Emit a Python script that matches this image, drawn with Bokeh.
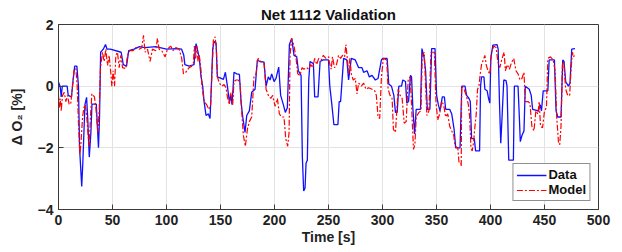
from bokeh.plotting import figure
from bokeh.models import Range1d, FixedTicker, Legend, LegendItem
from bokeh.embed import file_html
from bokeh.resources import INLINE

title_text = "Net 1112 Validation"
x_label = "Time [s]"
y_label = "\u0394 O\u2082 [%]"
x_ticks = [0, 50, 100, 150, 200, 250, 300, 350, 400, 450, 500]
y_ticks = [-4, -2, 0, 2]

# Measured data (blue)
time_data = [0, 1.5, 2.5, 3.5, 8, 9, 12, 13.5, 15, 17, 18.5, 19.5, 21.5, 22.5, 24.5, 26, 27, 28.5, 30, 31,
             35, 36, 37, 38, 39, 41.5, 43.5, 45, 48, 58, 60, 63, 65, 70, 75, 80, 90, 100, 110, 114,
             116, 117, 121, 125.5, 126.7, 127.4, 128.6, 130.4, 132, 133.5, 134.8, 136.6, 138.8, 140.3, 141.2, 142.8, 144, 145.9, 147.1, 149.6,
             152.7, 154.5, 156.4, 158.2, 159.4, 160.7, 162.5, 165, 167.5, 169, 170.6, 172.7, 174.3, 176.7, 178.9, 182, 184.1, 186.6, 190.3, 192.2,
             194.3, 195.9, 197.4, 199.6, 201.4, 203.9, 205.7, 208.2, 210, 211.9, 213.8, 215.9, 218.1, 220.6, 222.1, 224.6, 225.8, 227, 228.3, 229.2,
             230.4, 231.7, 232.9, 236, 237.2, 240.3, 242.2, 245.2, 250, 251.2, 253.1, 255, 258.7, 259.9, 261.2, 264, 267, 268.6, 271.1, 274.8,
             277.9, 281, 282.5, 285.7, 287.8, 290.3, 293.4, 295.9, 299, 300.2, 304.3, 305.8, 308.3, 310.5, 312, 313.6, 315.1, 317.6, 318.8, 321.3,
             322.5, 324.1, 325.9, 326.9, 328.1, 329.7, 331.2, 335.2, 336.5, 338.4, 339.9, 341.5, 343.9, 345.5, 348.6, 350.1, 351.7, 353.2, 355.4, 357.3,
             358.5, 362.2, 364.1, 366.3, 367.8, 371.8, 373.4, 376.4, 377.9, 380.1, 381.3, 382.5, 385, 386.2, 389.9, 390.8, 391.7, 393.9, 394.8, 396.9,
             398.2, 399.4, 400.3, 402.2, 406.1, 407.1, 408.3, 409.5, 410.7, 412.3, 414.4, 415.3, 416.9, 421.2, 422.1, 425.5, 426.7, 427.6, 429.1, 431,
             432.2, 435.9, 437.7, 439, 444.5, 446, 447.2, 448.8, 453.1, 454.3, 459.2, 460.7, 462.3, 465.3, 466.9, 468.1, 469.6, 472.1, 473.6, 475.2,
             478.2]
o2_data = [0.13, 0.0, -0.35, 0.0, 0.0, -0.3, -0.35, 0.2, 0.65, 0.65, 0.0, -2.0, -3.25, -2.5, -0.6, -0.36, -1.0, -2.3, -1.5, -0.58,
           -0.58, -1.3, -2.0, -1.0, 1.1, 1.2, 1.35, 1.2, 1.2, 1.1, 0.7, 0.65, 1.15, 1.2, 1.28, 1.25, 1.28, 1.2, 1.22, 1.2,
           1.0, 0.7, 0.65, 0.7, 1.2, 1.38, 1.2, 0.9, 0.3, 0.0, -0.5, -0.95, -0.9, -1.05, -0.3, 1.2, 1.45, 1.4, 0.3, 0.27,
           0.22, 0.45, 0.0, -0.5, -0.3, -0.6, 0.45, 0.4, 0.38, -0.5, -1.0, -1.5, -0.95, -0.8, -0.2, -0.1, 0.85, 0.8, 0.78, 0.0,
           0.3, 0.2, 0.4, 0.15, 0.25, 0.62, -0.3, -0.6, -0.85, -0.7, 1.35, 1.55, 1.0, 0.95, 0.5, 0.35, -2.3, -3.4, -3.3, -2.5,
           -2.4, 0.2, 0.8, 0.73, -0.35, -0.35, 0.8, 0.85, 0.85, 0.0, -0.6, -1.25, -1.25, -0.5, -0.5, 0.9, 0.85, 0.2, 0.9, 0.85,
           0.6, 0.6, 0.45, 0.5, 0.3, 0.35, 0.2, 0.25, 0.85, 0.9, 0.9, 0.07, 0.0, -0.3, -0.85, -0.85, 0.0, 0.0, 0.2, 0.15,
           -0.55, -0.5, 0.35, 0.3, -0.7, -1.55, -0.75, -0.75, 1.22, 0.95, 0.5, -0.75, -0.75, 1.22, 1.22, -0.3, -0.6, -0.8, -0.35, -0.35,
           -0.75, -0.75, -0.9, -1.4, -2.0, -2.0, 0.0, 0.0, -0.3, -0.4, -0.5, -1.7, -1.7, -2.1, -2.1, 0.0, 0.3, 0.3, -0.1, -0.15,
           -0.4, -0.55, 0.9, 1.33, 1.35, 1.2, -0.5, -1.85, -1.0, 0.2, 0.18, 0.0, -2.4, -2.4, 0.0, 0.0, -1.0, -1.8, -1.6, -1.45,
           0.0, -0.1, -0.3, -0.75, -0.8, -0.6, -0.8, -0.15, -0.15, 0.85, 0.85, -0.8, -1.0, -1.0, 0.85, 0.8, 0.15, 0.0, 0.1, 1.2,
           1.22]

# Model output (red)
time_model = [0, 0.6, 1.6, 2.5, 3.7, 5.3, 6.8, 8.4, 9.9, 11.4, 13, 14.5, 16.1, 17.3, 18.5, 19.8, 20.7, 22.3, 23.5, 24.7,
              25.9, 27.5, 28.4, 29.6, 30.9, 33.3, 34.6, 36.4, 37.7, 38.9, 40.7, 42.3, 43.8, 45.4, 46.9, 48.5, 49.4, 50.6, 51.9, 53.1,
              54.6, 56.2, 57.7, 59.3, 62.3, 63.9, 66, 69.1, 71.6, 74.7, 77.1, 78.7, 80.2, 82.4, 84.8, 87, 90.1, 91.6, 93.2, 95.6,
              98.7, 100.9, 103.9, 106.1, 108.6, 111.7, 114.1, 115.7, 117.8, 120.9, 123.3, 124.9, 125.8, 127, 128, 129.2, 130.4, 131.7, 132.9, 134.8,
              137.2, 139.1, 140.9, 142.2, 143.4, 145, 146.2, 147.1, 149, 151.1, 153.3, 155.1, 156.4, 158.2, 159.4, 161.3, 162.5, 164.4, 166.5, 168.1,
              169.6, 171.2, 173, 174.9, 176.7, 178.9, 181, 182.9, 184.8, 187.2, 190.3, 192.2, 194.3, 196.5, 198.3, 200.5, 202.7, 204.5, 206.7, 208.8,
              210.4, 212.2, 213.5, 214.4, 215.9, 218.1, 220, 221.5, 223.6, 225.5, 227.3, 229.8, 231.7, 233.5, 235.4, 237.2, 239.1, 240.9, 243.4, 245.2,
              247.7, 250.2, 250.6, 252.5, 253.7, 255.6, 257.4, 259.3, 261.2, 263, 264.9, 266.1, 267.4, 268.6, 269.8, 271.1, 272.9, 274.8, 276.4, 277.9,
              280.4, 282.5, 284.7, 287.2, 290.3, 292.8, 294.3, 295.9, 297.4, 299, 300.8, 303.9, 305.2, 307, 308.9, 310.1, 312, 313.2, 314.5, 316.3,
              318.2, 320.1, 321.9, 323.8, 325.6, 326.9, 328.7, 330, 331.2, 333.7, 335.6, 336.8, 338.7, 339.9, 341.1, 343, 344.9, 348, 349.5, 351.1,
              352.9, 354.8, 356.6, 358.5, 360.4, 362.2, 364.1, 366, 367.2, 369.7, 370.9, 372.5, 372.9, 373.3, 375.5, 377.6, 379.5, 380.7, 381.9, 383.1,
              384.4, 385.6, 386.8, 388, 389.3, 390.5, 391.7, 393.3, 394.8, 396, 397.6, 399.4, 400.9, 403.1, 405.2, 406.8, 408.6, 410.7, 412.6, 413.8,
              415.6, 417.5, 419.3, 421.5, 423.6, 425.5, 427.3, 429.1, 431, 432.2, 434.7, 436.5, 438.3, 440.2, 442, 443.9, 445.1, 446.3, 448.2, 450,
              451.8, 453.1, 455.5, 458, 459.8, 461.3, 462.9, 464.1, 465.3, 466.6, 467.8, 469.6, 471.5, 473.3, 474.5, 475.8, 477, 478.2]
o2_model = [-0.3, -0.7, -0.4, -0.8, -0.3, -0.2, -0.5, -0.3, -0.6, -0.55, 0.0, 0.55, 0.57, 0.0, -1.2, -2.2, -1.9, -1.0, -0.7, -0.6,
            -0.9, -1.6, -1.95, -1.0, -0.25, -0.35, -0.7, -1.5, -0.8, 0.6, 1.1, 0.8, 1.2, 0.67, 1.0, 0.4, 0.0, 0.5, 0.0, 1.0,
            1.1, 0.6, 1.0, 0.6, 0.57, 1.0, 1.15, 1.15, 1.25, 1.2, 1.25, 1.65, 1.1, 1.2, 0.8, 1.2, 1.15, 1.55, 1.2, 1.15,
            0.95, 1.2, 1.3, 1.15, 1.25, 1.2, 0.9, 0.4, 0.45, 0.6, 0.65, 0.75, 1.3, 0.9, 1.3, 0.8, 1.0, 0.6, 0.0, -0.5,
            -0.6, -0.75, -0.6, 0.5, 1.5, 1.6, 1.2, 0.3, 0.1, 0.0, 0.05, -0.05, -0.35, -0.6, -0.2, -0.6, 0.15, 0.2, 0.2, 0.1,
            -0.8, -1.6, -1.95, -1.4, -1.15, -1.0, 0.3, 0.4, 0.9, 0.8, 0.75, -0.1, -0.3, -0.4, -0.3, -0.65, -0.4, -0.9, -1.0, -1.0,
            -1.7, -1.95, -1.5, 1.0, 1.55, 1.3, 0.9, 0.4, 0.35, 0.6, 0.55, 0.6, 0.55, 0.7, 0.6, 0.9, 0.7, 0.9, 0.85, 1.0,
            0.9, 0.95, 0.8, 0.55, 0.95, 0.6, 0.7, 1.0, 0.9, 1.0, 0.95, 1.35, 0.9, 0.4, 0.9, 0.4, 0.2, 0.25, -0.25, 0.1,
            0.0, 0.1, -0.1, -0.05, -0.1, -0.15, -0.3, -1.0, -1.05, 0.3, 0.9, 0.85, -0.1, -0.3, -0.4, -1.4, -1.5, -0.8, -0.1, -0.3,
            -0.4, -1.2, -1.15, 0.2, 0.3, -0.6, -2.05, -1.9, -1.0, -0.85, -0.8, 1.0, 1.1, 0.0, -0.95, -0.8, 1.1, 1.1, -0.5, -1.1,
            -0.9, -0.5, -0.6, -1.0, -0.9, -1.3, -1.45, -1.6, -1.95, -2.0, -2.5, -2.5, -2.6, 0.0, -0.1, -0.3, -0.6, -1.0, -2.0, -2.1,
            -1.8, -1.3, -0.9, -0.1, 0.0, 0.4, 0.7, 0.85, 1.0, 0.7, 0.5, 0.4, 1.1, 1.3, 1.25, 0.8, 0.6, 0.9, 1.1, 0.5,
            0.7, 0.55, 0.75, 0.9, 0.5, 0.4, 0.2, 0.25, 0.45, -0.5, -0.5, -0.55, -1.3, -1.45, -0.8, -0.9, -0.5, -1.3, -1.35, -0.8,
            -0.7, 0.9, 0.95, 0.85, 0.5, -1.0, -1.8, -1.9, -1.3, 0.7, 0.8, -0.1, -0.3, -0.3, 0.5, 1.1, 0.95, 1.05]

FONT = "Liberation Sans"
AX_COLOR = "#3a3a3a"

p = figure(width=622, height=252, output_backend="svg", toolbar_location=None,
           x_range=Range1d(0, 500), y_range=Range1d(-4, 2),
           min_border_left=58, min_border_right=24, min_border_top=24, min_border_bottom=43)

p.title.text = title_text
p.title.align = "center"
p.title.text_font = FONT
p.title.text_font_size = "15px"
p.title.text_font_style = "bold"
p.title.text_color = "#111111"
p.title.standoff = 3
p.title.offset = 0

p.outline_line_color = AX_COLOR
p.outline_line_width = 1

for ax in (p.xaxis[0], p.yaxis[0]):
    ax.major_tick_in = 5
    ax.major_tick_out = 0
    ax.minor_tick_in = 0
    ax.minor_tick_out = 0
    ax.axis_line_color = AX_COLOR
    ax.major_tick_line_color = AX_COLOR
    ax.major_label_text_font = FONT
    ax.major_label_text_font_style = "bold"
    ax.major_label_text_color = "#222222"
    ax.axis_label_text_font = FONT
    ax.axis_label_text_font_style = "bold"
    ax.axis_label_text_color = "#222222"
    ax.major_label_text_font_size = "14px"
    ax.axis_label_text_font_size = "14px"

p.xaxis[0].ticker = FixedTicker(ticks=x_ticks)
p.yaxis[0].ticker = FixedTicker(ticks=y_ticks)
p.xaxis[0].axis_label = x_label
p.yaxis[0].axis_label = y_label
p.xaxis[0].major_label_standoff = 5
p.xaxis[0].axis_label_standoff = 1
p.yaxis[0].major_label_standoff = 5
p.yaxis[0].axis_label_standoff = 10

p.xgrid.ticker = FixedTicker(ticks=x_ticks)
p.ygrid.ticker = FixedTicker(ticks=y_ticks)
p.grid.grid_line_color = "#e3e3e3"
p.grid.grid_line_width = 1

r_data = p.line(time_data, o2_data, line_color="#1010ff", line_width=1.3)
r_model = p.line(time_model, o2_model, line_color="#ff0000", line_width=1.2, line_dash="6 2 2 2")

legend = Legend(items=[LegendItem(label="Data", renderers=[r_data]),
                       LegendItem(label="Model", renderers=[r_model])],
                location="bottom_right")
legend.label_text_font = FONT
legend.label_text_font_style = "bold"
legend.label_text_font_size = "13px"
legend.label_text_color = "#111111"
legend.label_height = 14
legend.label_standoff = 2
legend.glyph_width = 30
legend.glyph_height = 14
legend.spacing = 0
legend.padding = 3
legend.margin = 8
legend.border_line_color = "#222222"
legend.border_line_width = 1
legend.background_fill_alpha = 1
p.add_layout(legend, "center")

open("out.html", "w").write(file_html(p, INLINE))
